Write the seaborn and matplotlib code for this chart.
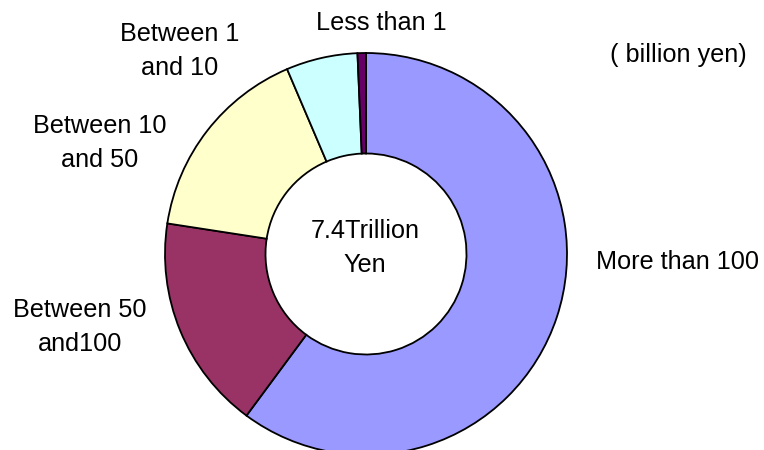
import matplotlib
matplotlib.use("Agg")
import matplotlib.pyplot as plt
import seaborn as sns

# Outstanding amounts by size band (billion yen), clockwise from 12 o'clock
categories = ["More than 100", "Between 50\nand100", "Between 10\nand 50",
              "Between 1\nand 10", "Less than 1"]
values = [4450, 1280, 1195, 425, 50]
colors = ["#9999FF", "#993366", "#FFFFCC", "#CCFFFF", "#660066"]
center_label = "7.4Trillion\nYen"
unit_label = "( billion yen)"

sns.set_theme(style="white")
plt.rcParams["font.family"] = ["Liberation Sans", "DejaVu Sans"]

W, H = 764, 450
fig = plt.figure(figsize=(W / 100, H / 100), dpi=100)
ax = fig.add_axes([0, 0, 1, 1])

cx, cy, R = 366, H - 254, 201
ax.pie(values, colors=colors, startangle=90, counterclock=False,
       center=(cx, cy), radius=R,
       wedgeprops=dict(width=R * 0.5, edgecolor="black", linewidth=1.3))

ax.set_xlim(0, W)
ax.set_ylim(0, H)
ax.set_aspect("equal")
ax.axis("off")

fs = 18.2
ls = 1.5
label_pos = {
    "More than 100": (677, 262),
    "Between 50\nand100": (80, 327),
    "Between 10\nand 50": (100, 143),
    "Between 1\nand 10": (180, 51),
    "Less than 1": (381, 23),
}
for cat in categories:
    x, y = label_pos[cat]
    ax.text(x, H - y, cat, ha="center", va="center", fontsize=fs,
            linespacing=ls, color="black")

ax.text(365, H - 248, center_label, ha="center", va="center", fontsize=fs,
        linespacing=ls, color="black")
ax.text(678, H - 55, unit_label, ha="center", va="center", fontsize=fs,
        color="black")

fig.savefig("out.png", dpi=100, facecolor="white")
